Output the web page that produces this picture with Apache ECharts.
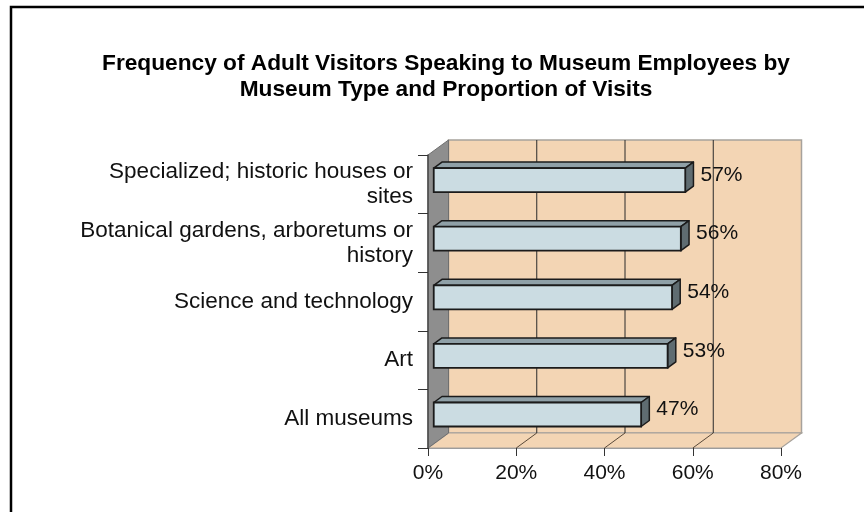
<!DOCTYPE html>
<html>
<head>
<meta charset="utf-8">
<script src="https://cdn.jsdelivr.net/npm/echarts@6/dist/echarts.min.js"></script>
<style>
  html, body { margin: 0; padding: 0; background: #ffffff; }
  #chart { width: 864px; height: 512px; }
</style>
</head>
<body>
<div id="chart"></div>
<script>
// Museum types, bottom to top
const categories = [
  'All museums',
  'Art',
  'Science and technology',
  'Botanical gardens, arboretums or\nhistory',
  'Specialized; historic houses or\nsites'
];
// Share of visits where adults spoke to museum employees (%)
const shares = [47, 53, 54, 56, 57];
// Value axis ticks (%)
const xTicks = [0, 20, 40, 60, 80];

// Oblique projection of the plot depth, in pixels
const DEPTH_X = 20.5, DEPTH_Y = -15;
// Where each bar sits along the depth (0 = front, 1 = back wall)
const BAR_FRONT = 0.28, BAR_BACK = 0.68;
// Bar thickness as a fraction of a category band
const BAR_THICK = 0.41;

const WALL = '#f3d5b4';
const SIDE_WALL = '#8e8e8e';
const EDGE = '#1b1b1b';

function renderWalls(params, api) {
  const band = api.size([0, 1])[1];
  const n = categories.length;
  const xMin = xTicks[0], xMax = xTicks[xTicks.length - 1];
  const left = api.coord([xMin, 0])[0];
  const right = api.coord([xMax, 0])[0];
  const bottom = api.coord([xMin, 0])[1] + band / 2;
  const top = api.coord([xMin, n - 1])[1] - band / 2;
  const dx = DEPTH_X, dy = DEPTH_Y;
  const children = [];
  // back wall
  children.push({
    type: 'polygon',
    shape: { points: [[left + dx, top + dy], [right + dx, top + dy], [right + dx, bottom + dy], [left + dx, bottom + dy]] },
    style: { fill: WALL, stroke: '#a7a29c', lineWidth: 1.5 }
  });
  // floor
  children.push({
    type: 'polygon',
    shape: { points: [[left, bottom], [right, bottom], [right + dx, bottom + dy], [left + dx, bottom + dy]] },
    style: { fill: WALL, stroke: '#a7a29c', lineWidth: 1.2 }
  });
  // left side wall
  children.push({
    type: 'polygon',
    shape: { points: [[left, top], [left + dx, top + dy], [left + dx, bottom + dy], [left, bottom]] },
    style: { fill: SIDE_WALL, stroke: '#6f6f6f', lineWidth: 1 }
  });
  // gridlines on the back wall and floor
  xTicks.slice(1, -1).forEach(function (t) {
    const x = api.coord([t, 0])[0];
    children.push({
      type: 'line',
      shape: { x1: x + dx, y1: top + dy, x2: x + dx, y2: bottom + dy },
      style: { stroke: '#2a2a2a', lineWidth: 1 }
    });
    children.push({
      type: 'line',
      shape: { x1: x, y1: bottom, x2: x + dx, y2: bottom + dy },
      style: { stroke: '#5a4a3a', lineWidth: 1 }
    });
  });
  return { type: 'group', children: children };
}

function renderBar(params, api) {
  const v = api.value(0);
  const idx = api.value(1);
  const c0 = api.coord([0, idx]);
  const c1 = api.coord([v, idx]);
  const band = api.size([0, 1])[1];
  const h = band * BAR_THICK;
  const fx = DEPTH_X * BAR_FRONT, fy = DEPTH_Y * BAR_FRONT;
  const ddx = DEPTH_X * (BAR_BACK - BAR_FRONT), ddy = DEPTH_Y * (BAR_BACK - BAR_FRONT);
  const x0 = c0[0] + fx, x1 = c1[0] + fx;
  const yt = c0[1] + fy - h / 2, yb = c0[1] + fy + h / 2;
  return {
    type: 'group',
    children: [
      {
        type: 'polygon',
        shape: { points: [[x0, yt], [x0 + ddx, yt + ddy], [x1 + ddx, yt + ddy], [x1, yt]] },
        style: { fill: '#8fa0a7', stroke: EDGE, lineWidth: 1.5, lineJoin: 'round' }
      },
      {
        type: 'polygon',
        shape: { points: [[x1, yt], [x1 + ddx, yt + ddy], [x1 + ddx, yb + ddy], [x1, yb]] },
        style: { fill: '#5f6c71', stroke: EDGE, lineWidth: 1.5, lineJoin: 'round' }
      },
      {
        type: 'rect',
        shape: { x: x0, y: yt, width: x1 - x0, height: yb - yt },
        style: { fill: '#cbdce2', stroke: EDGE, lineWidth: 1.8 }
      },
      {
        type: 'text',
        style: {
          x: x1 + ddx + 7,
          y: c0[1] + fy - 5,
          text: v + '%',
          fill: '#111111',
          fontSize: 21,
          fontFamily: 'Liberation Sans, Arial, sans-serif',
          verticalAlign: 'middle',
          align: 'left'
        }
      }
    ]
  };
}

const chart = echarts.init(document.getElementById('chart'), null, { renderer: 'canvas' });
chart.setOption({
  animation: false,
  backgroundColor: '#ffffff',
  title: {
    text: 'Frequency of Adult Visitors Speaking to Museum Employees by\nMuseum Type and Proportion of Visits',
    left: 441,
    top: 46,
    textAlign: 'center',
    textStyle: {
      fontFamily: '"Liberation Sans Narrow", "Arial Narrow", sans-serif',
      fontWeight: 'bold',
      fontSize: 22.7,
      lineHeight: 26,
      color: '#000000',
      align: 'center'
    }
  },
  graphic: [{
    type: 'rect',
    shape: { x: 11, y: 7, width: 900, height: 600 },
    style: { fill: 'none', stroke: '#000000', lineWidth: 2.5 },
    silent: true
  }],
  grid: { left: 428, top: 155, width: 353, height: 293, containLabel: false },
  xAxis: {
    type: 'value',
    min: 0,
    max: 80,
    interval: 20,
    z: 5,
    axisLine: { show: true, lineStyle: { color: '#9c9c9c', width: 1.2 } },
    axisTick: { show: true, length: 8, lineStyle: { color: '#333333', width: 1 } },
    splitLine: { show: false },
    axisLabel: {
      formatter: '{value}%',
      fontSize: 21,
      color: '#111111',
      margin: 15,
      fontFamily: 'Liberation Sans, Arial, sans-serif'
    }
  },
  yAxis: {
    type: 'category',
    data: categories,
    z: 5,
    axisLine: { show: true, lineStyle: { color: '#4a4a4a', width: 1.5 } },
    axisTick: { show: true, length: 10, lineStyle: { color: '#333333', width: 1 } },
    axisLabel: {
      fontSize: 22.5,
      lineHeight: 25,
      color: '#111111',
      margin: 15,
      align: 'right',
      fontFamily: 'Liberation Sans, Arial, sans-serif'
    }
  },
  series: [
    {
      type: 'custom',
      renderItem: renderWalls,
      data: [[0, 0]],
      z: 1,
      silent: true
    },
    {
      type: 'custom',
      renderItem: renderBar,
      data: shares.map(function (v, i) { return [v, i]; }),
      encode: { x: 0, y: 1 },
      z: 3
    }
  ]
});
</script>
</body>
</html>
